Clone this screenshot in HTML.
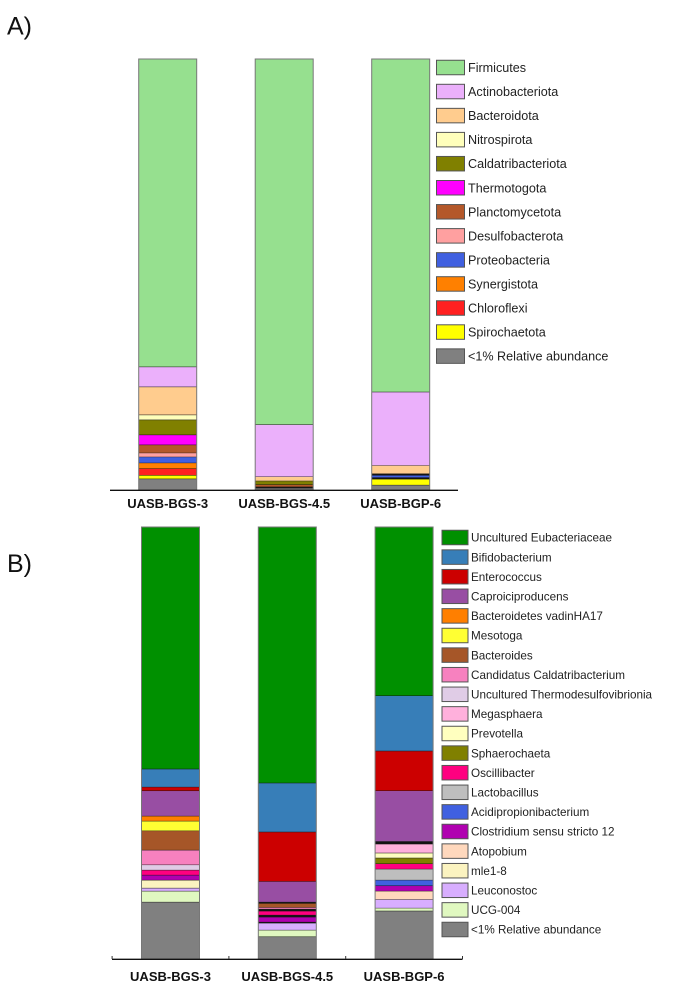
<!DOCTYPE html>
<html lang="en">
<head>
<meta charset="utf-8">
<title>Relative abundance stacked bars</title>
<style>
html,body{margin:0;padding:0;background:#fff;width:685px;height:989px;overflow:hidden}
svg{display:block}
text{font-family:"Liberation Sans",Arial,sans-serif}
</style>
</head>
<body>
<svg id="figure" width="685" height="989" viewBox="0 0 685 989" xmlns="http://www.w3.org/2000/svg">
  <text x="7" y="34.5" font-size="25" fill="#111">A)</text>
  <text x="7" y="572" font-size="25" fill="#111">B)</text>
  <g id="panelA"></g>
  <g id="panelB"></g>
</svg>
<script>
const categories = ["UASB-BGS-3", "UASB-BGS-4.5", "UASB-BGP-6"];

const phylaNames = ["Firmicutes", "Actinobacteriota", "Bacteroidota", "Nitrospirota", "Caldatribacteriota", "Thermotogota", "Planctomycetota", "Desulfobacterota", "Proteobacteria", "Synergistota", "Chloroflexi", "Spirochaetota", "<1% Relative abundance"];
const phylaColors = ["#96E08F", "#EBB0FB", "#FFCC8E", "#FFFFBB", "#808000", "#FF00FF", "#B4582A", "#FFA0A0", "#4060E0", "#FF8000", "#FF2020", "#FFFF00", "#808080"];
const phylaBgs3 = [71.5, 4.64, 6.5, 1.16, 3.48, 2.32, 1.86, 0.93, 1.39, 1.32, 1.55, 0.84, 2.51];
const phylaBgs45 = [84.9, 12.07, 1.0, 0, 0.85, 0, 0.5, 0, 0, 0.3, 0, 0, 0.38];
const phylaBgp6 = [77.33, 17.03, 1.93, 0, 0, 0, 0, 0.35, 0.55, 0.35, 0, 1.39, 1.07];

const genusNames = ["Uncultured Eubacteriaceae", "Bifidobacterium", "Enterococcus", "Caproiciproducens", "Bacteroidetes vadinHA17", "Mesotoga", "Bacteroides", "Candidatus Caldatribacterium", "Uncultured Thermodesulfovibrionia", "Megasphaera", "Prevotella", "Sphaerochaeta", "Oscillibacter", "Lactobacillus", "Acidipropionibacterium", "Clostridium sensu stricto 12", "Atopobium", "mle1-8", "Leuconostoc", "UCG-004", "<1% Relative abundance"];
const genusColors = ["#009000", "#377EB8", "#CC0000", "#984EA3", "#FF7F00", "#FFFF33", "#A65628", "#F781BF", "#E0CCE6", "#FFB0DC", "#FFFFBF", "#808000", "#FF0080", "#BEBEBE", "#4060E0", "#B000B0", "#FFD8BD", "#FBF3C0", "#D8AEFF", "#E0F8C0", "#808080"];
const genusBgs3 = [56.09, 4.17, 0.86, 5.86, 1.16, 2.25, 4.47, 3.40, 1.23, 0, 0, 0, 1.16, 0, 0, 1.16, 0, 1.85, 0.69, 2.55, 13.1];
const genusBgs45 = [59.33, 11.34, 11.44, 4.77, 0.3, 0, 0.95, 0.38, 0.23, 0, 0, 0.23, 0.93, 0.23, 0.23, 1.16, 0, 0.23, 1.62, 1.55, 5.07];
const genusBgp6 = [39.12, 12.80, 9.19, 11.74, 0, 0, 0, 0.3, 0.3, 2.08, 1.16, 1.32, 1.23, 2.55, 1.32, 1.23, 1.94, 0, 1.99, 0.69, 11.04];

const NS = "http://www.w3.org/2000/svg";
function node(tag, attrs, parent) {
  const el = document.createElementNS(NS, tag);
  for (const k in attrs) el.setAttribute(k, attrs[k]);
  parent.appendChild(el);
  return el;
}

function drawPanel(cfg) {
  const root = document.getElementById(cfg.id);
  const yAxis = v => cfg.baseY - v / 100 * (cfg.baseY - cfg.topY);
  const xAxis = i => cfg.firstCenter + i * cfg.step;

  cfg.series.forEach((vals, i) => {
    const bar = node("g", {}, root);
    
    
    const left = xAxis(i) - cfg.barWidth / 2;
    let cum = 0;
    vals.forEach((v, j) => {
      if (v <= 0) return;
      const y0 = yAxis(100 - cum);
      const y1 = yAxis(100 - cum - v);
      cum += v;
      const fill = (y1 - y0) < 1.55 ? "#151515" : cfg.colors[j];
      const seg = node("rect", {x: left, y: y0, width: cfg.barWidth, height: y1 - y0, fill: fill}, bar);
      
      
      const sep = node("line", {x1: left, x2: left + cfg.barWidth, y1: y1, y2: y1, stroke: "#111", "stroke-width": 1, "stroke-opacity": 0.9}, bar);
      
      
    });
    const outline = node("rect", {x: left, y: yAxis(100), width: cfg.barWidth, height: yAxis(0) - yAxis(100), fill: "none", stroke: "#777", "stroke-width": 1}, bar);
    
    

    const label = node("text", {x: xAxis(i), y: cfg.labelY, "text-anchor": "middle", "font-size": cfg.labelSize, "font-weight": "bold", fill: "#111"}, root);
    label.textContent = categories[i];
    
    
  });

  const axis = node("line", {x1: cfg.axisStart, x2: cfg.axisEnd, y1: cfg.baseY + 0.3, y2: cfg.baseY + 0.3, stroke: "#111", "stroke-width": 1.3}, root);
  
  
  if (cfg.ticks) {
    for (let i = 0; i <= categories.length; i++) {
      const tx = xAxis(i) - cfg.step / 2;
      const tick = node("line", {x1: tx, x2: tx, y1: cfg.baseY - 3, y2: cfg.baseY, stroke: "#333", "stroke-width": 1}, root);
      
      
    }
  }

  cfg.names.forEach((name, j) => {
    const cy = cfg.legendY + j * cfg.legendStep;
    const sw = node("rect", {x: cfg.swatchX, y: cy - cfg.swatchH / 2, width: cfg.swatchW, height: cfg.swatchH, fill: cfg.colors[j], stroke: "#555", "stroke-width": 1}, root);
    
    
    const t = node("text", {x: cfg.legendTextX, y: cy + cfg.legendSize * 0.36, "font-size": cfg.legendSize, fill: "#222"}, root);
    t.textContent = name;
    
    
  });
}

drawPanel({
  id: "panelA", names: phylaNames, colors: phylaColors,
  series: [phylaBgs3, phylaBgs45, phylaBgp6],
  topY: 59, baseY: 490, firstCenter: 167.7, step: 116.5, barWidth: 58,
  labelY: 508, labelSize: 13, axisStart: 110, axisEnd: 458, ticks: false,
  legendY: 67.5, legendStep: 24.05, swatchX: 436.5, swatchW: 28, swatchH: 14.5,
  legendTextX: 468, legendSize: 12.6
});
drawPanel({
  id: "panelB", names: genusNames, colors: genusColors,
  series: [genusBgs3, genusBgs45, genusBgp6],
  topY: 527, baseY: 959, firstCenter: 170.5, step: 116.8, barWidth: 58,
  labelY: 981, labelSize: 13, axisStart: 112, axisEnd: 462.5, ticks: true,
  legendY: 537.5, legendStep: 19.6, swatchX: 442, swatchW: 26, swatchH: 14.5,
  legendTextX: 471, legendSize: 11.7
});
</script>
</body>
</html>
